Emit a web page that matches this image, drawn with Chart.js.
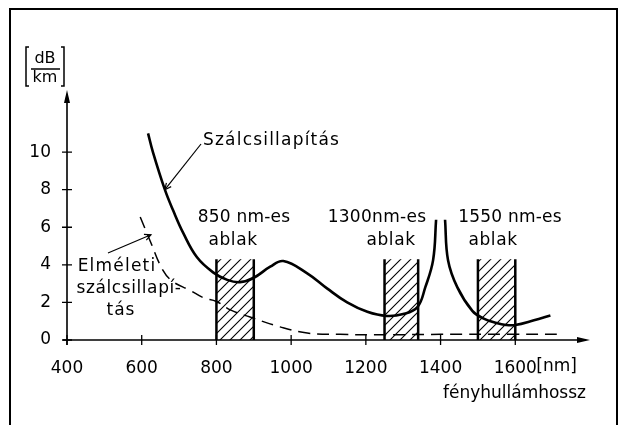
<!DOCTYPE html>
<html>
<head>
<meta charset="utf-8">
<script src="https://cdn.jsdelivr.net/npm/chart.js@4/dist/chart.umd.min.js"></script>
<style>
  body { margin: 0; background: #fff; }
</style>
</head>
<body>
<canvas id="attChart" width="622" height="425"></canvas>
<script>
// measured fibre attenuation (solid), null = gap at the OH peak
const fibreNm = [617, 630, 662, 684, 711, 748, 791, 829, 863, 899, 944, 979, 1043, 1096, 1150, 1204, 1255, 1300, 1338, 1359, 1380, 1388, 1400, 1412, 1420, 1445, 1485, 1514, 1550, 1575, 1600, 1650, 1694];
const fibreDb = [11.0, 10.0, 8.0, 6.9, 5.7, 4.4, 3.6, 3.2, 3.08, 3.3, 3.9, 4.2, 3.55, 2.75, 2.0, 1.5, 1.28, 1.38, 1.75, 2.8, 4.25, 6.4, null, 6.4, 4.25, 2.8, 1.55, 1.15, 0.9, 0.8, 0.8, 1.05, 1.3];

// theoretical attenuation (dashed)
const theoryNm = [596, 622, 657, 684, 729, 765, 800, 837, 890, 970, 1043, 1131, 1250, 1400, 1600, 1720];
const theoryDb = [6.55, 5.3, 3.7, 3.1, 2.65, 2.25, 2.05, 1.6, 1.22, 0.7, 0.37, 0.3, 0.28, 0.3, 0.3, 0.3];

// transmission windows
const windowFrom = [800, 1250, 1500];
const windowTo = [900, 1340, 1600];
const windowTop = 4.3;

const xTicks = [400, 600, 800, 1000, 1200, 1400, 1600];
const yTicks = [0, 2, 4, 6, 8, 10];

const FONT = '"DejaVu Sans", sans-serif';

function pts(xs, ys) {
    return xs.map((x, i) => ({ x: x, y: ys[i] }));
}

function hatchPattern(ctx) {
    const c = document.createElement('canvas');
    c.width = 10; c.height = 10;
    const g = c.getContext('2d');
    g.strokeStyle = '#000';
    g.lineWidth = 1.1;
    g.beginPath();
    g.moveTo(-1, 11); g.lineTo(11, -1);
    g.moveTo(-1, 1); g.lineTo(1, -1);
    g.moveTo(9, 11); g.lineTo(11, 9);
    g.stroke();
    return ctx.createPattern(c, 'repeat');
}

function arrowHead(ctx, x, y, ang, len, w) {
    ctx.save();
    ctx.translate(x, y);
    ctx.rotate(ang);
    ctx.beginPath();
    ctx.moveTo(0, 0);
    ctx.lineTo(-len, -w);
    ctx.lineTo(-len, w);
    ctx.closePath();
    ctx.fill();
    ctx.restore();
}

function leader(ctx, x1, y1, x2, y2) {
    ctx.beginPath();
    ctx.moveTo(x1, y1);
    ctx.lineTo(x2, y2);
    ctx.stroke();
    ctx.beginPath();
    const a = Math.atan2(y2 - y1, x2 - x1);
    ctx.moveTo(x2 - 7 * Math.cos(a - 0.45), y2 - 7 * Math.sin(a - 0.45));
    ctx.lineTo(x2, y2);
    ctx.lineTo(x2 - 7 * Math.cos(a + 0.45), y2 - 7 * Math.sin(a + 0.45));
    ctx.stroke();
}

function label(ctx, text, x, y, spacing) {
    ctx.letterSpacing = (spacing || 0) + 'px';
    ctx.fillText(text, x, y);
    ctx.letterSpacing = '0px';
}

const decor = {
    id: 'decor',
    beforeDatasetsDraw(chart) {
        const ctx = chart.ctx;
        const xs = chart.scales.x, ys = chart.scales.y;
        ctx.save();
        // hatched windows
        const pat = hatchPattern(ctx);
        for (let i = 0; i < windowFrom.length; i++) {
            const l = xs.getPixelForValue(windowFrom[i]);
            const r = xs.getPixelForValue(windowTo[i]);
            const t = ys.getPixelForValue(windowTop);
            const b = ys.getPixelForValue(0);
            ctx.fillStyle = pat;
            ctx.fillRect(l, t, r - l, b - t);
            ctx.strokeStyle = '#000';
            ctx.lineWidth = 2.5;
            ctx.beginPath();
            ctx.moveTo(l, t); ctx.lineTo(l, b);
            ctx.moveTo(r, t); ctx.lineTo(r, b);
            ctx.stroke();
        }
        ctx.restore();
    },
    afterDraw(chart) {
        const ctx = chart.ctx;
        const xs = chart.scales.x, ys = chart.scales.y;
        const x0 = xs.getPixelForValue(400);
        const y0 = ys.getPixelForValue(0);
        const xEnd = xs.getPixelForValue(1800);
        const yEnd = ys.getPixelForValue(13.3);
        ctx.save();
        ctx.strokeStyle = '#000';
        ctx.fillStyle = '#000';

        // frame
        ctx.lineWidth = 2;
        ctx.strokeRect(10, 9, 607, 430);

        // axes
        ctx.lineWidth = 1.6;
        ctx.beginPath();
        ctx.moveTo(x0 - 4, y0); ctx.lineTo(xEnd - 4, y0);
        ctx.moveTo(x0, y0 + 5); ctx.lineTo(x0, yEnd + 4);
        ctx.stroke();
        arrowHead(ctx, xEnd, y0, 0, 13, 3);
        arrowHead(ctx, x0, yEnd, -Math.PI / 2, 13, 3);

        // tick marks crossing the axes
        ctx.lineWidth = 1.3;
        ctx.beginPath();
        yTicks.forEach(v => {
            const p = ys.getPixelForValue(v);
            ctx.moveTo(x0 - 5, p); ctx.lineTo(x0 + 5, p);
        });
        xTicks.forEach(v => {
            const p = xs.getPixelForValue(v);
            ctx.moveTo(p, y0 - 5); ctx.lineTo(p, y0 + 5);
        });
        ctx.stroke();

        // axis titles
        ctx.font = '17px ' + FONT;
        ctx.textBaseline = 'middle';
        ctx.textAlign = 'left';
        ctx.fillText('[nm]', xs.getPixelForValue(1600) + 21, 367);
        ctx.textAlign = 'right';
        ctx.fillText('fényhullámhossz', 586, 394);

        ctx.textAlign = 'center';
        ctx.font = '16px ' + FONT;
        ctx.fillText('dB', 45, 59);
        ctx.fillText('km', 45, 78);
        ctx.lineWidth = 1.5;
        ctx.beginPath();
        ctx.moveTo(31, 69); ctx.lineTo(60, 69);
        ctx.moveTo(29, 47); ctx.lineTo(26, 47); ctx.lineTo(26, 86); ctx.lineTo(29, 86);
        ctx.moveTo(61, 47); ctx.lineTo(64, 47); ctx.lineTo(64, 86); ctx.lineTo(61, 86);
        ctx.stroke();

        // annotations
        ctx.font = '17px ' + FONT;
        ctx.textAlign = 'left';
        label(ctx, 'Szálcsillapítás', 203, 141, 1.2);
        ctx.textAlign = 'center';
        label(ctx, '850 nm-es', 244, 218, 0.2);
        label(ctx, 'ablak', 233, 241, 0.6);
        label(ctx, '1300nm-es', 377, 218, 0.3);
        label(ctx, 'ablak', 391, 241, 0.6);
        label(ctx, '1550 nm-es', 510, 218, 0.2);
        label(ctx, 'ablak', 493, 241, 0.6);
        label(ctx, 'Elméleti', 117, 267, 1.2);
        label(ctx, 'szálcsillapí-', 129, 289, 0.6);
        label(ctx, 'tás', 121, 311, 1);

        ctx.lineWidth = 1.2;
        leader(ctx, 201, 144, xs.getPixelForValue(662), ys.getPixelForValue(8));
        leader(ctx, 108, 253, xs.getPixelForValue(622) + 1, ys.getPixelForValue(5.6));
        ctx.restore();
    }
};

const ctx = document.getElementById('attChart').getContext('2d');
new Chart(ctx, {
    type: 'scatter',
    data: {
        datasets: [{
            label: 'Szálcsillapítás',
            data: pts(fibreNm, fibreDb),
            showLine: true,
            spanGaps: false,
            borderColor: '#000',
            borderWidth: 2.6,
            pointRadius: 0,
            tension: 0.4
        }, {
            label: 'Elméleti szálcsillapítás',
            data: pts(theoryNm, theoryDb),
            showLine: true,
            borderColor: '#000',
            borderWidth: 1.5,
            borderDash: [12, 7],
            pointRadius: 0,
            tension: 0.4
        }]
    },
    options: {
        responsive: false,
        animation: false,
        layout: { padding: { left: 0, right: 32, top: 92, bottom: 0 } },
        plugins: {
            legend: { display: false },
            tooltip: { enabled: false }
        },
        scales: {
            x: {
                type: 'linear',
                min: 400,
                max: 1800,
                afterBuildTicks: s => { s.ticks = xTicks.map(v => ({ value: v })); },
                afterFit: s => { s.height = 85; },
                grid: { display: false, drawTicks: false },
                border: { display: false },
                ticks: {
                    color: '#000',
                    padding: 18,
                    maxRotation: 0,
                    autoSkip: false,
                    font: { family: FONT, size: 17 },
                    callback: v => String(v)
                }
            },
            y: {
                min: 0,
                max: 13.2,
                afterBuildTicks: s => { s.ticks = yTicks.map(v => ({ value: v })); },
                afterFit: s => { s.width = 67; },
                grid: { display: false, drawTicks: false },
                border: { display: false },
                ticks: {
                    color: '#000',
                    padding: 16,
                    font: { family: FONT, size: 17 },
                    callback: v => String(v)
                }
            }
        }
    },
    plugins: [decor]
});
</script>
</body>
</html>
